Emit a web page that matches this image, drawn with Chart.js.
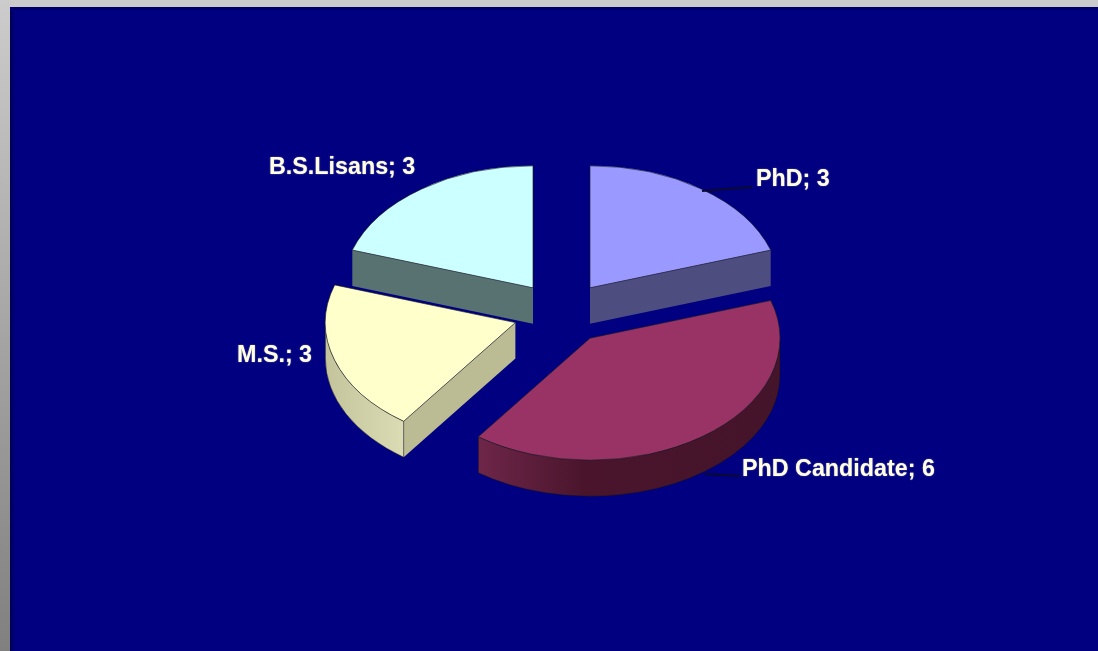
<!DOCTYPE html>
<html>
<head>
<meta charset="utf-8">
<title>Degrees</title>
<script src="https://cdn.jsdelivr.net/npm/chart.js@4"></script>
<style>
  html, body { margin: 0; height: 100%; overflow: hidden; background: linear-gradient(#cccccc, #808080); }
  .slide { position: absolute; left: 10px; top: 7px; right: 0; bottom: 0; background: #000080; }
  .slide:before { content: ""; position: absolute; left: 0; top: 0; bottom: 0; width: 5px; background: linear-gradient(90deg, #000050, #000080); }
  .slide:after { content: ""; position: absolute; left: 0; right: 0; top: 0; height: 4px; background: linear-gradient(#000060, #000080); }
  canvas { position: absolute; left: 0; top: 0; }
</style>
</head>
<body>
<div class="slide"></div>
<canvas id="myChart" width="1098" height="651"></canvas>
<script>
var categories = ["PhD", "PhD Candidate", "M.S.", "B.S.Lisans"];
var counts = [3, 6, 3, 3];

var topColors = ["#9999ff", "#993366", "#ffffcc", "#ccffff"];
var faceColors = ["#4d4d80", "#4d1a33", "#bcbc94", "#587272"];
var rimColors = [null, ["#6e2649", "#4a152c"], ["#c4c49c", "#dcdcb4"], null];

// where the labels sit on the slide
var labelSpots = [[756, 186], [742, 476], [237, 362], [269, 174]];
var leaderLines = [[702, 191, 752, 187], [705, 474, 740, 476], null, null];

var pieCenter = { x: 561.5, y: 313 };
var tilt = 0.642;
var depth = 36;
var explode = 48.5;

function shift(el) {
  var mid = (el.startAngle + el.endAngle) / 2;
  return { x: Math.cos(mid) * explode, y: Math.sin(mid) * explode };
}

function drawWall(ctx, el, i) {
  var h = depth / tilt;
  var s = shift(el);
  var x = el.x + s.x;
  var y = el.y + s.y;
  var r = el.outerRadius;

  ctx.lineWidth = 0.8;
  ctx.strokeStyle = "rgba(20,20,20,0.7)";

  // flat cut faces, only the ones turned toward the viewer
  [[el.startAngle, -Math.PI / 2], [el.endAngle, Math.PI / 2]].forEach(function (f) {
    if (Math.sin(f[0] + f[1]) <= 0.001) return;
    var ex = x + Math.cos(f[0]) * r;
    var ey = y + Math.sin(f[0]) * r;
    ctx.beginPath();
    ctx.moveTo(x, y);
    ctx.lineTo(ex, ey);
    ctx.lineTo(ex, ey + h);
    ctx.lineTo(x, y + h);
    ctx.closePath();
    ctx.fillStyle = faceColors[i];
    ctx.fill();
  });

  // curved rim, front half of the ellipse only
  var from = Math.max(el.startAngle, 0);
  var to = Math.min(el.endAngle, Math.PI);
  if (to > from) {
    var x0 = x + Math.cos(to) * r;
    var x1 = x + Math.cos(from) * r;
    var grad = ctx.createLinearGradient(x0, 0, x1, 0);
    grad.addColorStop(0, rimColors[i][0]);
    grad.addColorStop(i === 1 ? 0.35 : 1, rimColors[i][1]);
    if (i === 1) grad.addColorStop(1, "#44142a");
    ctx.beginPath();
    ctx.arc(x, y, r, from, to);
    ctx.lineTo(x + Math.cos(to) * r, y + Math.sin(to) * r + h);
    ctx.arc(x, y + h, r, to, from, true);
    ctx.closePath();
    ctx.fillStyle = grad;
    ctx.fill();
    ctx.stroke();
  }
}

var pie3d = {
  id: "pie3d",
  beforeDatasetsDraw: function (chart) {
    var ctx = chart.ctx;
    var arcs = chart.getDatasetMeta(0).data;
    ctx.save();
    ctx.translate(pieCenter.x, pieCenter.y);
    ctx.scale(1, tilt);
    ctx.translate(-arcs[0].x, -arcs[0].y);
    arcs.forEach(function (el, i) {
      drawWall(ctx, el, i);
      // the offset option also grows the radius of wide slices, so move them here instead
      if (!el.draw.exploded) {
        var base = el.draw;
        el.draw = function (c, area) {
          var s = shift(this);
          c.save();
          c.translate(s.x, s.y);
          base.call(this, c, area);
          c.restore();
        };
        el.draw.exploded = true;
      }
    });
  },
  afterDatasetsDraw: function (chart) {
    var ctx = chart.ctx;
    ctx.restore();

    ctx.strokeStyle = "#0a0a30";
    ctx.lineWidth = 2;
    leaderLines.forEach(function (l) {
      if (!l) return;
      ctx.beginPath();
      ctx.moveTo(l[0], l[1]);
      ctx.lineTo(l[2], l[3]);
      ctx.stroke();
    });

    ctx.save();
    ctx.font = "bold 23.3px 'Liberation Sans', Arial, sans-serif";
    ctx.fillStyle = "#fffde2";
    ctx.shadowColor = "rgba(255,253,226,0.55)";
    ctx.shadowBlur = 1.5;
    ctx.textAlign = "left";
    ctx.textBaseline = "alphabetic";
    categories.forEach(function (name, i) {
      ctx.fillText(name + "; " + counts[i], labelSpots[i][0], labelSpots[i][1]);
    });
    ctx.restore();
  }
};

new Chart(document.getElementById("myChart").getContext("2d"), {
  type: "pie",
  data: {
    labels: categories,
    datasets: [
      {
        data: counts,
        backgroundColor: topColors,
        borderColor: "rgba(30,30,30,0.75)",
        borderWidth: 1,
        clip: false
      }
    ]
  },
  options: {
    responsive: false,
    animation: false,
    radius: 190,
    layout: { padding: 0 },
    plugins: { legend: { display: false }, tooltip: { enabled: false } }
  },
  plugins: [pie3d]
});
</script>
</body>
</html>
